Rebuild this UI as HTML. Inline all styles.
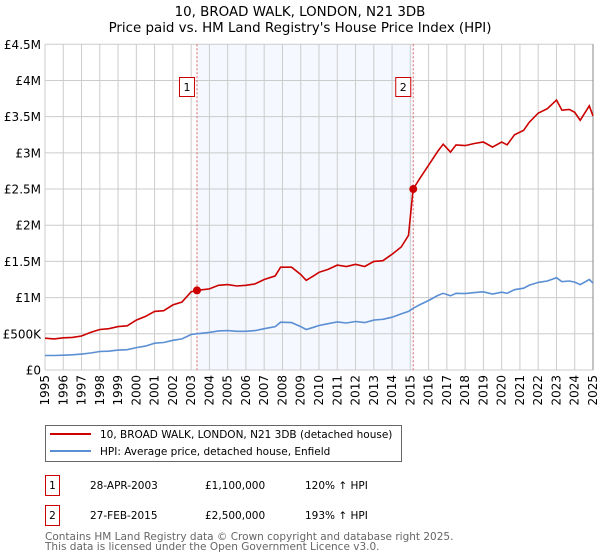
<!DOCTYPE html>
<html><head><meta charset="utf-8"><style>
body{margin:0;background:#fff;}
svg{display:block;font-family:"DejaVu Sans","Liberation Sans",sans-serif;}
</style></head><body>
<svg id="chart" width="600" height="560" viewBox="0 0 600 560">
<text x="300" y="16" text-anchor="middle" font-size="13.4" fill="#000">10, BROAD WALK, LONDON, N21 3DB</text>
<text x="300" y="32" text-anchor="middle" font-size="13.4" fill="#000">Price paid vs. HM Land Registry's House Price Index (HPI)</text>
<g id="plot"></g>
<g>
<rect x="45.5" y="425.5" width="356" height="36" fill="#fff" stroke="#666"/>
<line x1="50" y1="434" x2="91" y2="434" stroke="#cc0000" stroke-width="2"/>
<text x="100" y="438" font-size="10.5">10, BROAD WALK, LONDON, N21 3DB (detached house)</text>
<line x1="50" y1="451" x2="91" y2="451" stroke="#5b8fd4" stroke-width="2"/>
<text x="100" y="455" font-size="10.5">HPI: Average price, detached house, Enfield</text>
</g>
<g font-size="10.5">
<rect x="45.5" y="475.5" width="14" height="20" fill="#fff" stroke="#cc0000"/>
<text x="52.5" y="489" text-anchor="middle">1</text>
<text x="90" y="489">28-APR-2003</text>
<text x="205" y="489">£1,100,000</text>
<text x="305" y="489">120% ↑ HPI</text>
<rect x="45.5" y="505.5" width="14" height="20" fill="#fff" stroke="#cc0000"/>
<text x="52.5" y="519" text-anchor="middle">2</text>
<text x="90" y="519">27-FEB-2015</text>
<text x="205" y="519">£2,500,000</text>
<text x="305" y="519">193% ↑ HPI</text>
</g>
<text x="45" y="540" font-size="10.5" fill="#666">Contains HM Land Registry data © Crown copyright and database right 2025.</text>
<text x="45" y="550" font-size="10.5" fill="#666">This data is licensed under the Open Government Licence v3.0.</text>
</svg>
<script>
const years = [1995,1995.5,1996,1996.5,1997,1997.5,1998,1998.5,1999,1999.5,2000,2000.5,2001,2001.5,2002,2002.5,2003,2003.3,2004,2004.5,2005,2005.5,2006,2006.5,2007,2007.6,2007.9,2008.5,2009,2009.3,2009.7,2010,2010.5,2011,2011.5,2012,2012.5,2013,2013.5,2014,2014.5,2014.9,2015.15,2015.5,2016,2016.5,2016.8,2017.2,2017.5,2018,2018.5,2019,2019.5,2020,2020.3,2020.7,2021.2,2021.5,2022,2022.5,2023,2023.3,2023.7,2024,2024.3,2024.8,2025];
const hpiValues = [200,200,205,210,220,235,255,260,275,280,310,330,370,380,410,430,490,500,520,540,545,535,535,545,570,600,660,655,600,560,590,615,640,665,650,670,655,690,700,730,775,810,853,900,960,1030,1060,1025,1060,1055,1070,1080,1050,1075,1060,1110,1130,1170,1210,1230,1275,1220,1230,1215,1180,1250,1200];
const propertyValues = [440,430,445,450,470,520,560,570,600,610,690,740,810,820,900,940,1080,1100,1120,1170,1180,1160,1170,1190,1250,1300,1420,1420,1320,1240,1300,1350,1390,1450,1430,1460,1430,1500,1510,1600,1700,1860,2500,2640,2830,3020,3120,3010,3110,3100,3130,3150,3080,3150,3110,3250,3310,3420,3550,3610,3730,3590,3600,3560,3450,3650,3510];
const yTicks = [0,500,1000,1500,2000,2500,3000,3500,4000,4500];
const yTickLabels = ['£0','£500K','£1M','£1.5M','£2M','£2.5M','£3M','£3.5M','£4M','£4.5M'];
const saleYears = [2003.32,2015.16];
const salePrices = [1100,2500];
const saleLabels = ['1','2'];

const NS='http://www.w3.org/2000/svg';
const X0=45,X1=593,Y0=370,Y1=44.3;
const xs=y=>X0+(y-1995)/30*(X1-X0);
const ys=v=>Y0-v/4500*(Y0-Y1);
const g=document.getElementById('plot');
function mk(t,a){const e=document.createElementNS(NS,t);for(const k in a)e.setAttribute(k,a[k]);g.appendChild(e);return e;}
let e=mk('rect',{x:xs(saleYears[0]),y:Y1,width:xs(saleYears[1])-xs(saleYears[0]),height:Y0-Y1,fill:'#f5f8fe'});


for(let yr=1995;yr<=2025;yr++){
 e=mk('line',{x1:xs(yr),x2:xs(yr),y1:Y1,y2:Y0,stroke:'#cccccc','stroke-width':1});
 
 
 e=mk('text',{transform:`translate(${xs(yr)+4},${Y0+5}) rotate(-90)`,'text-anchor':'end','font-size':12});
 e.textContent=yr;
 
 
}
yTicks.forEach((v,i)=>{
 e=mk('line',{x1:X0,x2:X1,y1:ys(v),y2:ys(v),stroke:'#cccccc','stroke-width':1});
 
 
 e=mk('text',{x:X0-4,y:ys(v)+4.5,'text-anchor':'end','font-size':12});
 e.textContent=yTickLabels[i];
 
 
});
e=mk('line',{x1:X1,x2:X1,y1:Y1,y2:Y0,stroke:'#888','stroke-width':1});


saleYears.forEach((yr,i)=>{
 e=mk('line',{x1:xs(yr),x2:xs(yr),y1:Y1,y2:Y0,stroke:'#e06666','stroke-width':1,'stroke-dasharray':'2,2'});
 
 
});
const pts=arr=>arr.map((v,i)=>xs(years[i]).toFixed(1)+','+ys(v).toFixed(1)).join(' ');
e=mk('polyline',{points:pts(hpiValues),fill:'none',stroke:'#5b8fd4','stroke-width':1.6});


e=mk('polyline',{points:pts(propertyValues),fill:'none',stroke:'#cc0000','stroke-width':1.6});


saleYears.forEach((yr,i)=>{
 e=mk('circle',{cx:xs(yr),cy:ys(salePrices[i]),r:4,fill:'#cc0000'});
 
 
 const bx=xs(yr)-10;
 e=mk('rect',{x:bx-7.5,y:77.5,width:15,height:19,fill:'#fff',stroke:'#cc0000'});
 
 
 e=mk('text',{x:bx,y:91,'text-anchor':'middle','font-size':11});
 e.textContent=saleLabels[i];
 
 
});
</script>
</body></html>
